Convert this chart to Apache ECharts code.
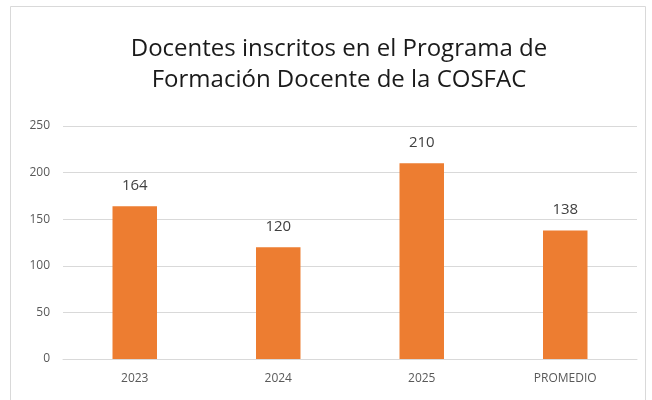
<!DOCTYPE html>
<html>
	<head>
		<meta charset="utf-8" />
		<title></title>
		<script type="text/javascript" src="https://cdn.jsdelivr.net/npm/echarts@6/dist/echarts.min.js"></script>
		<style type="text/css">
			html, body { margin: 0; padding: 0; background: #fff; }
			#main { width: 652px; height: 400px; }
		</style>
	</head>
	<body>
		<div id="main"></div>
		<script type="text/javascript">
			// datos
			var categorias = ['2023', '2024', '2025', 'PROMEDIO'];
			var docentes = [164, 120, 210, 138];
			var ticksY = [0, 50, 100, 150, 200, 250];

			var myChart = echarts.init(document.getElementById('main'));
			var option = {
				textStyle: { fontFamily: 'Open Sans' },
				title: {
					text: 'Docentes inscritos en el Programa de\nFormación Docente de la COSFAC',
					left: 334,
					top: 29,
					textAlign: 'center',
					textStyle: {
						fontSize: 24,
						fontWeight: 'normal',
						color: '#1a1a1a',
						lineHeight: 31,
						fontFamily: 'Open Sans'
					}
				},
				graphic: [{
					type: 'rect',
					shape: { x: 10.5, y: 6.5, width: 635, height: 400 },
					style: { fill: 'none', stroke: '#d9d9d9', lineWidth: 1 },
					silent: true
				}],
				grid: { left: 63, right: 15, top: 126, bottom: 41 },
				xAxis: {
					type: 'category',
					data: categorias,
					axisTick: { show: false },
					axisLine: { lineStyle: { color: '#d9d9d9' } },
					axisLabel: { color: '#595959', fontSize: 12, margin: 14 }
				},
				yAxis: {
					type: 'value',
					min: ticksY[0],
					max: ticksY[ticksY.length - 1],
					interval: 50,
					axisLine: { show: false },
					axisTick: { show: false },
					splitLine: { lineStyle: { color: '#d9d9d9', width: 1 } },
					axisLabel: { color: '#595959', fontSize: 12, margin: 13 }
				},
				series: [{
					name: 'Docentes',
					type: 'bar',
					data: docentes,
					barWidth: '31%',
					itemStyle: { color: '#ED7D31' },
					label: {
						show: true,
						position: 'top',
						distance: 13,
						color: '#404040',
						fontSize: 15
					}
				}]
			};
			myChart.setOption(option, true);
		</script>
	</body>
</html>
